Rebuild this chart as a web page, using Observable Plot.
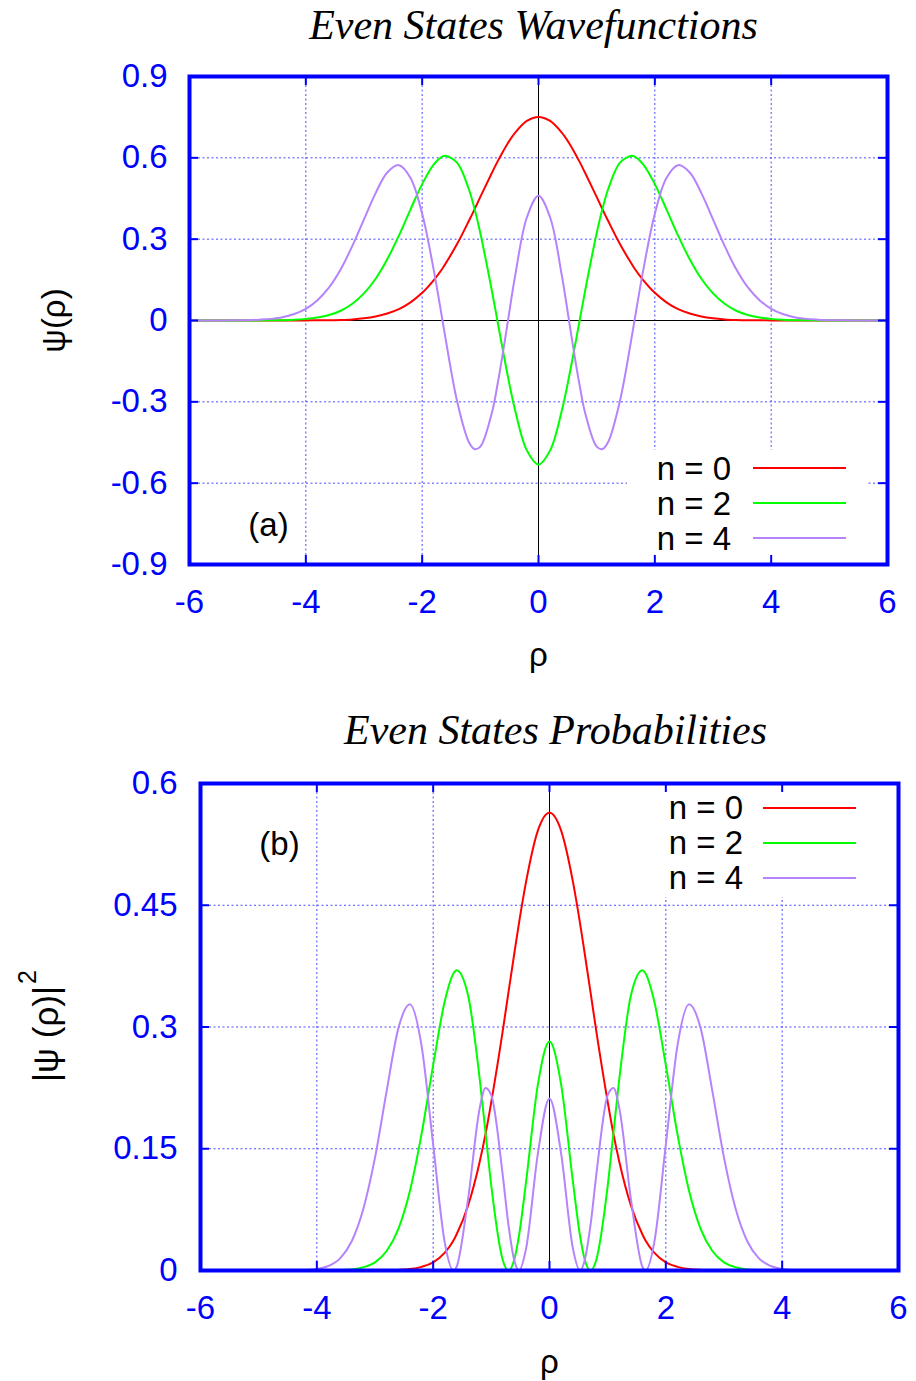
<!DOCTYPE html>
<html><head><meta charset="utf-8">
<script src="https://cdn.jsdelivr.net/npm/d3@7"></script>
<script src="https://cdn.jsdelivr.net/npm/@observablehq/plot@0.6"></script>
<style>
html,body{margin:0;padding:0;background:#fff;}
#wrap{width:916px;height:1381px;position:relative;overflow:hidden;background:#fff;}
#wrap svg{display:block;}
</style></head><body><div id="wrap"></div>
<script>
// ---- data ----
const rho = [-6,-5.8,-5.6,-5.4,-5.2,-5,-4.8,-4.6,-4.4,-4.2,-4,-3.8,-3.6,-3.4,-3.2,-3,-2.8,-2.6,-2.4,-2.2,-2,-1.8,-1.6507,-1.6,-1.4,-1.2,-1.1,-1,-0.8,-0.7071,-0.6,-0.5246,-0.4,-0.2,
  0,
  0.2,0.4,0.5246,0.6,0.7071,0.8,1,1.1,1.2,1.4,1.6,1.6507,1.8,2,2.2,2.4,2.6,2.8,3,3.2,3.4,3.6,3.8,4,4.2,4.4,4.6,4.8,5,5.2,5.4,5.6,5.8,6];

const psi0 = [0,0,0,0,0, 0,0,0,0,0, 0,0.001,0.001,0.002,0.004, 0.008,0.015,0.026,0.042,0.067, 0.102,0.149,0.192,0.209,0.282, 0.366,0.410,0.456,0.545,0.585, 0.627,0.655,0.693,0.736,
  0.751,
  0.736,0.693,0.655,0.627,0.585, 0.545,0.456,0.410,0.366,0.282, 0.209,0.192,0.149,0.102,0.067, 0.042,0.026,0.015,0.008,0.004, 0.002,0.001,0.001,0,0, 0,0,0,0,0, 0,0,0,0];

const psi2 = [0,0,0,0,0, 0,0,0.001,0.001,0.003, 0.006,0.011,0.020,0.036,0.062, 0.100,0.154,0.226,0.313,0.410, 0.503,0.576,0.605,0.608,0.582, 0.486,0.412,0.322,0.108,0, -0.124,-0.208,-0.333,-0.479,
  -0.531,
  -0.479,-0.333,-0.208,-0.124,0, 0.108,0.322,0.412,0.486,0.582, 0.608,0.605,0.576,0.503,0.410, 0.313,0.226,0.154,0.100,0.062, 0.036,0.020,0.011,0.006,0.003, 0.001,0.001,0,0,0, 0,0,0,0];

const psi4 = [0,0,0,0,0.001, 0.001,0.003,0.006,0.012,0.024, 0.043,0.075,0.122,0.189,0.275, 0.373,0.470,0.546,0.573,0.526, 0.394,0.185,0,-0.064,-0.297, -0.447,-0.474,-0.465,-0.339,-0.239, -0.103,0,0.167,0.380,
  0.460,
  0.380,0.167,0,-0.103,-0.239, -0.339,-0.465,-0.474,-0.447,-0.297, -0.064,0,0.185,0.394,0.526, 0.573,0.546,0.470,0.373,0.275, 0.189,0.122,0.075,0.043,0.024, 0.012,0.006,0.003,0.001,0.001, 0,0,0,0];

const prob0 = [0,0,0,0,0, 0,0,0,0,0, 0,0,0,0,0, 0.0001,0.0002,0.0007,0.0018,0.0045, 0.010,0.022,0.037,0.044,0.080, 0.134,0.168,0.208,0.297,0.342, 0.393,0.428,0.480,0.542,
  0.564,
  0.542,0.480,0.428,0.393,0.342, 0.297,0.208,0.168,0.134,0.080, 0.044,0.037,0.022,0.010,0.0045, 0.0018,0.0007,0.0002,0.0001,0, 0,0,0,0,0, 0,0,0,0,0, 0,0,0,0];

const prob2 = [0,0,0,0,0, 0,0,0,0,0, 0,0.0001,0.0004,0.0013,0.004, 0.010,0.024,0.051,0.098,0.168, 0.253,0.332,0.366,0.370,0.339, 0.236,0.170,0.104,0.012,0, 0.015,0.043,0.111,0.229,
  0.282,
  0.229,0.111,0.043,0.015,0, 0.012,0.104,0.170,0.236,0.339, 0.370,0.366,0.332,0.253,0.168, 0.098,0.051,0.024,0.010,0.004, 0.0013,0.0004,0.0001,0,0, 0,0,0,0,0, 0,0,0,0];

const prob4 = [0,0,0,0,0, 0,0,0,0.0001,0.0006, 0.0018,0.0056,0.015,0.036,0.076, 0.139,0.221,0.298,0.328,0.277, 0.155,0.034,0,0.004,0.088, 0.200,0.225,0.216,0.115,0.057, 0.011,0,0.028,0.144,
  0.212,
  0.144,0.028,0,0.011,0.057, 0.115,0.216,0.225,0.200,0.088, 0.004,0,0.034,0.155,0.277, 0.328,0.298,0.221,0.139,0.076, 0.036,0.015,0.0056,0.0018,0.0006, 0.0001,0,0,0,0, 0,0,0,0];

const seriesNames = ["n = 0", "n = 2", "n = 4"];
const seriesColors = ["#ff0000", "#00ff00", "#b583fb"];
const titles = ["Even States Wavefunctions", "Even States Probabilities"];
const panelTags = ["(a)", "(b)"];
const xLabel = "ρ";
const yLabelTop = "ψ(ρ)";
const yLabelBot = "|ψ (ρ)|";
const yLabelBotSup = "2";

const xTicks = [-6, -4, -2, 0, 2, 4, 6];
const xInner = [-4, -2, 0, 2, 4];
const xGrid = [-4, -2, 2, 4];
const yTicksTop = [-0.9, -0.6, -0.3, 0, 0.3, 0.6, 0.9];
const yInnerTop = [-0.6, -0.3, 0, 0.3, 0.6];
const yGridTop = [-0.6, -0.3, 0.3, 0.6];
const yTicksBot = [0, 0.15, 0.3, 0.45, 0.6];
const yInnerBot = [0.15, 0.3, 0.45];
const yGridBot = [0.15, 0.3, 0.45];

// ---- styles ----
const SANS = "'Liberation Sans', Arial, Helvetica, sans-serif";
const SERIF = "'Liberation Serif', 'Times New Roman', serif";
const GRID = "#4a4aff";
const DASH = "2,2.5";
const FS = 33;

function legendMark(box, rows) {
  return () => {
    const g = d3.create("svg:g");
    g.append("rect").attr("x", box.x).attr("y", box.y).attr("width", box.w).attr("height", box.h).attr("fill", "white");
    rows.forEach((r, i) => {
      g.append("text").attr("x", r.tx).attr("y", r.ty).attr("text-anchor", "end")
        .attr("font-family", SANS).attr("font-size", FS).attr("fill", "black").text(seriesNames[i]);
      g.append("line").attr("x1", r.lx1).attr("x2", r.lx2).attr("y1", r.ly).attr("y2", r.ly)
        .attr("stroke", seriesColors[i]).attr("stroke-width", 2);
    });
    return g.node();
  };
}

const tickFmt = d => String(d);

// ---- top panel ----
const topInnerH = 488, topInnerW = 698;
const topPlot = Plot.plot({
  width: 916, height: 690,
  marginLeft: 189, marginRight: 29, marginTop: 76, marginBottom: 126,
  x: {domain: [-6, 6]},
  y: {domain: [-0.9, 0.9]},
  style: {fontFamily: SANS, background: "white"},
  marks: [
    Plot.ruleX(xGrid, {stroke: GRID, strokeDasharray: DASH, strokeWidth: 1}),
    Plot.ruleY(yGridTop, {stroke: GRID, strokeDasharray: DASH, strokeWidth: 1}),
    Plot.ruleX([0], {stroke: "black", strokeWidth: 1}),
    Plot.ruleY([0], {stroke: "black", strokeWidth: 1}),
    Plot.line(rho, {x: rho, y: psi0, stroke: seriesColors[0], strokeWidth: 2, curve: "catmull-rom", clip: true}),
    Plot.line(rho, {x: rho, y: psi2, stroke: seriesColors[1], strokeWidth: 2, curve: "catmull-rom", clip: true}),
    Plot.line(rho, {x: rho, y: psi4, stroke: seriesColors[2], strokeWidth: 2, curve: "catmull-rom", clip: true}),
    legendMark({x: 627, y: 450, w: 240, h: 110}, [
      {tx: 731, ty: 480, lx1: 753, lx2: 846, ly: 468},
      {tx: 731, ty: 515, lx1: 753, lx2: 846, ly: 503},
      {tx: 731, ty: 550, lx1: 753, lx2: 846, ly: 538}
    ]),
    Plot.ruleX(xInner, {stroke: "blue", strokeWidth: 2, insetTop: topInnerH - 9}),
    Plot.ruleX(xInner, {stroke: "blue", strokeWidth: 2, insetBottom: topInnerH - 9}),
    Plot.ruleY(yInnerTop, {stroke: "blue", strokeWidth: 2, insetRight: topInnerW - 9}),
    Plot.ruleY(yInnerTop, {stroke: "blue", strokeWidth: 2, insetLeft: topInnerW - 9}),
    Plot.frame({stroke: "blue", strokeWidth: 4}),
    Plot.axisX({ticks: xTicks, tickSize: 0, tickPadding: 25, tickFormat: tickFmt, color: "blue", fontSize: FS, label: null}),
    Plot.axisY({ticks: yTicksTop, tickSize: 0, tickPadding: 22, tickFormat: tickFmt, color: "blue", fontSize: FS, label: null}),
    Plot.text([titles[0]], {text: d => d, frameAnchor: "top", textAnchor: "middle", lineAnchor: "middle", dx: -5, dy: -51.4, fontSize: 42, fontStyle: "italic", fontFamily: SERIF, fill: "black"}),
    Plot.text([xLabel], {text: d => d, frameAnchor: "bottom", textAnchor: "middle", lineAnchor: "middle", dy: 91.4, fontSize: FS, fill: "black"}),
    Plot.text([yLabelTop], {text: d => d, frameAnchor: "left", textAnchor: "middle", lineAnchor: "middle", rotate: -90, dx: -134.6, fontSize: FS, fill: "black"}),
    Plot.text([panelTags[0]], {text: d => d, frameAnchor: "bottom-left", textAnchor: "middle", lineAnchor: "middle", dx: 79, dy: -38.6, fontSize: FS, fill: "black"})
  ]
});

// ---- bottom panel ----
const botInnerH = 487, botInnerW = 698;
function yLabelBotMark() {
  const t = d3.create("svg:text")
    .attr("transform", "translate(58,392) rotate(-90)")
    .attr("text-anchor", "start").attr("font-family", SANS).attr("font-size", 35).attr("fill", "black");
  t.append("tspan").text(yLabelBot);
  t.append("tspan").attr("font-size", 25).attr("dy", -22).attr("dx", 2).text(yLabelBotSup);
  return t.node();
}
const botPlot = Plot.plot({
  width: 916, height: 691,
  marginLeft: 200, marginRight: 18, marginTop: 93, marginBottom: 111,
  x: {domain: [-6, 6]},
  y: {domain: [0, 0.6]},
  style: {fontFamily: SANS, background: "white"},
  marks: [
    Plot.ruleX(xGrid, {stroke: GRID, strokeDasharray: DASH, strokeWidth: 1}),
    Plot.ruleY(yGridBot, {stroke: GRID, strokeDasharray: DASH, strokeWidth: 1}),
    Plot.ruleX([0], {stroke: "black", strokeWidth: 1}),
    Plot.line(rho, {x: rho, y: prob0, stroke: seriesColors[0], strokeWidth: 2, curve: "monotone-x", clip: true}),
    Plot.line(rho, {x: rho, y: prob2, stroke: seriesColors[1], strokeWidth: 2, curve: "monotone-x", clip: true}),
    Plot.line(rho, {x: rho, y: prob4, stroke: seriesColors[2], strokeWidth: 2, curve: "monotone-x", clip: true}),
    legendMark({x: 640, y: 95, w: 240, h: 112}, [
      {tx: 743, ty: 129, lx1: 763, lx2: 856, ly: 118},
      {tx: 743, ty: 164, lx1: 763, lx2: 856, ly: 153},
      {tx: 743, ty: 199, lx1: 763, lx2: 856, ly: 188}
    ]),
    Plot.ruleX(xInner, {stroke: "blue", strokeWidth: 2, insetTop: botInnerH - 9}),
    Plot.ruleX(xInner, {stroke: "blue", strokeWidth: 2, insetBottom: botInnerH - 9}),
    Plot.ruleY(yInnerBot, {stroke: "blue", strokeWidth: 2, insetRight: botInnerW - 9}),
    Plot.ruleY(yInnerBot, {stroke: "blue", strokeWidth: 2, insetLeft: botInnerW - 9}),
    Plot.frame({stroke: "blue", strokeWidth: 4}),
    Plot.axisX({ticks: xTicks, tickSize: 0, tickPadding: 25, tickFormat: tickFmt, color: "blue", fontSize: FS, label: null}),
    Plot.axisY({ticks: yTicksBot, tickSize: 0, tickPadding: 23, tickFormat: tickFmt, color: "blue", fontSize: FS, label: null}),
    Plot.text([titles[1]], {text: d => d, frameAnchor: "top", textAnchor: "middle", lineAnchor: "middle", dx: 6, dy: -53.4, fontSize: 42, fontStyle: "italic", fontFamily: SERIF, fill: "black"}),
    Plot.text([xLabel], {text: d => d, frameAnchor: "bottom", textAnchor: "middle", lineAnchor: "middle", dy: 92.4, fontSize: FS, fill: "black"}),
    Plot.text([panelTags[1]], {text: d => d, frameAnchor: "top-left", textAnchor: "middle", lineAnchor: "middle", dx: 79, dy: 61.4, fontSize: FS, fill: "black"}),
    yLabelBotMark
  ]
});

const wrap = document.getElementById("wrap");
wrap.appendChild(topPlot);
wrap.appendChild(botPlot);
</script>
</body></html>
